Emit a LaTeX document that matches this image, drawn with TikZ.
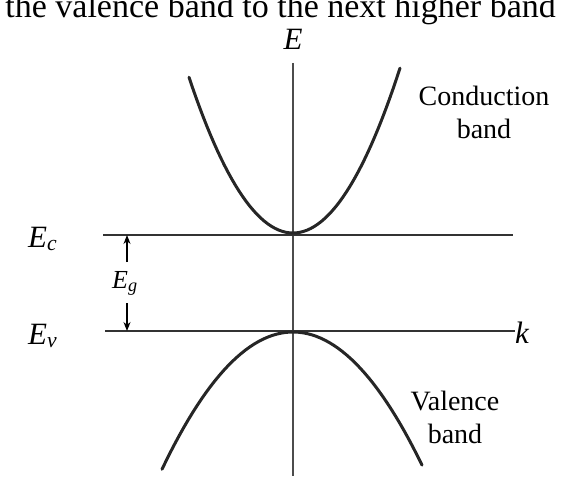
\documentclass[tikz,border=0pt]{standalone}
\usepackage{fontspec}
\setmainfont{Liberation Serif}
\usetikzlibrary{arrows.meta}

\begin{document}
\begin{tikzpicture}[x=1pt,y=-1pt,
  lbl/.style={inner sep=0pt,font=\fontsize{31}{34}\selectfont\itshape},
  txt/.style={inner sep=0pt,align=center,font=\fontsize{28}{33}\selectfont},
  lvl/.style={line width=2pt,black!80},
  bnd/.style={line width=3pt,black!85,line cap=round},
  gap/.style={line width=1.2pt,-{Stealth[length=9pt,width=7pt]}}]
  \useasboundingbox (0,0) rectangle (572,476);
  \begin{scope}
    \clip (0,0) rectangle (572,476);
    \node[anchor=base east,inner sep=0pt,font=\fontsize{34}{36}\selectfont] (cap) at (556,18) {the valence band to the next higher band};
  \end{scope}
  % axes and levels
  \node[lbl,anchor=base] (E) at (293,50) {E};
  \node[lbl,anchor=base west] (k) at (515,343) {k};
  \coordinate (axT) at (293,63);
  \coordinate (axB) at (293,476);
  \draw[line width=1.5pt,black!70] (axT) -- (axB);
  \coordinate (ecL) at (103,235);
  \coordinate (ecR) at (513,235);
  \coordinate (evL) at (105,331);
  \draw[lvl] (ecL) -- (ecR);
  \draw[lvl] (evL) -- (k.west |- evL);
  \node[lbl,anchor=base west] (Ec) at (28,247) {E\textsubscript{c}};
  \node[lbl,anchor=base west] (Ev) at (28,344) {E\textsubscript{v}};
  % gap
  \node[lbl,anchor=base west,font=\fontsize{26}{30}\selectfont\itshape] (Eg) at (112,288) {E\textsubscript{g}};
  \coordinate (gT) at (127,262);
  \coordinate (gB) at (127,303);
  \draw[gap] (gT) -- (gT |- ecL);
  \draw[gap] (gB) -- (gB |- evL);
  % bands
  \draw[bnd] plot[domain=189:400,samples=60] (\x,{233-1.44*((\x-293)/10)^2});
  \draw[bnd] plot[domain=162:422,samples=60] (\x,{332+0.8*((\x-293)/10)^2});
  \node[txt] (cb) at (484,112) {Conduction\\band};
  \node[txt] (vb) at (455,417) {Valence\\band};
\end{tikzpicture}
\end{document}
